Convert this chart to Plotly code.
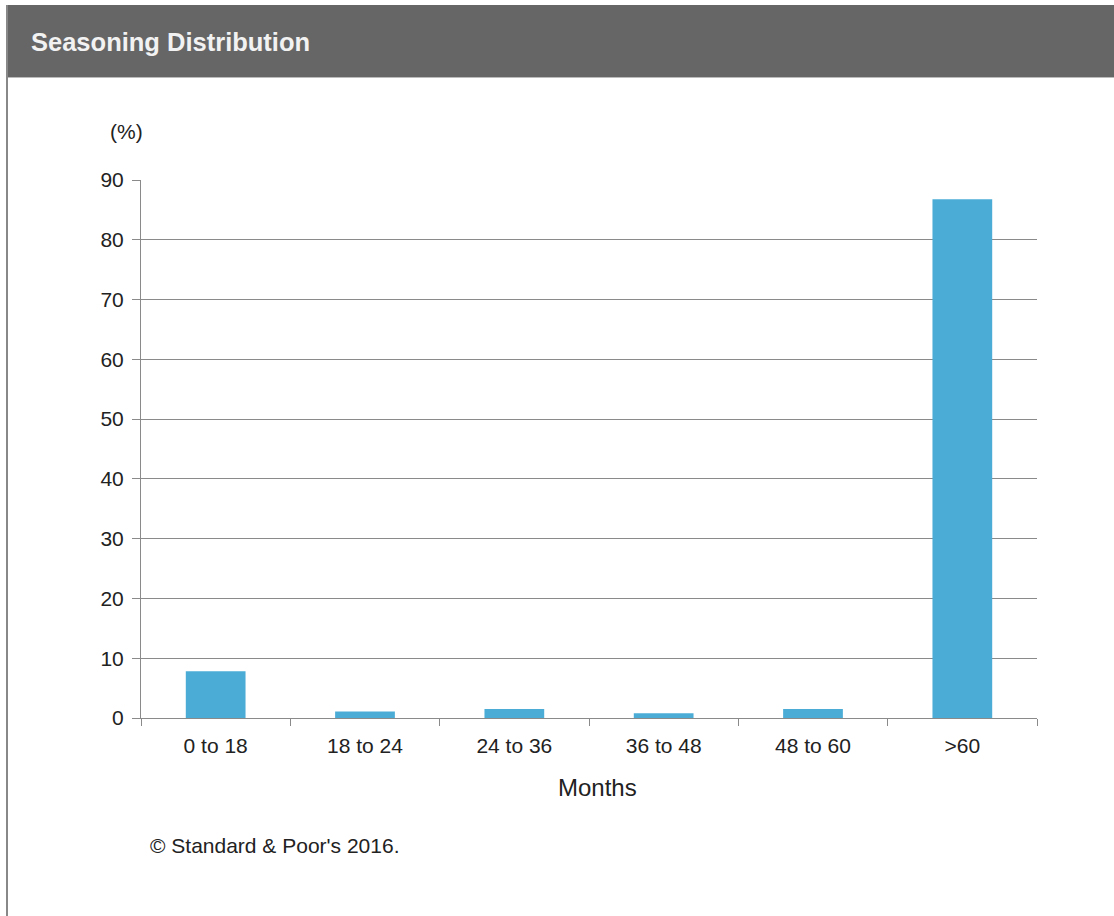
import plotly.graph_objects as go

categories = ["0 to 18", "18 to 24", "24 to 36", "36 to 48", "48 to 60", ">60"]
values = [7.8, 1.1, 1.5, 0.8, 1.5, 86.8]
y_ticks = [0, 10, 20, 30, 40, 50, 60, 70, 80, 90]

W, H = 1114, 916
L, R, T, B = 141, 1037, 180, 718  # plot area in pixels


def px(x):
    return (x - L) / (R - L)


def py(y):
    return (B - y) / (B - T)


FONT = "Liberation Sans, Arial, sans-serif"
GRID = "#8a8a8a"

fig = go.Figure(
    go.Bar(
        x=categories,
        y=values,
        marker=dict(color="#4BACD6", line=dict(width=0)),
        hoverinfo="x+y",
    )
)

fig.update_layout(
    width=W,
    height=H,
    autosize=False,
    margin=dict(l=L, r=W - R, t=T, b=H - B, pad=0),
    paper_bgcolor="white",
    plot_bgcolor="white",
    bargap=0.6,
    showlegend=False,
    font=dict(family=FONT, color="#222222", size=21),
)

fig.update_xaxes(
    type="category",
    tickson="boundaries",
    ticks="outside",
    ticklen=7,
    tickwidth=1,
    tickcolor=GRID,
    showline=True,
    linecolor=GRID,
    linewidth=1,
    showgrid=False,
    ticklabelstandoff=9,
    tickfont=dict(size=21, family=FONT, color="#222222"),
    fixedrange=True,
)

fig.update_yaxes(
    range=[0, 90],
    tickvals=y_ticks,
    ticks="outside",
    ticklen=8,
    tickwidth=1,
    tickcolor=GRID,
    showline=True,
    linecolor=GRID,
    linewidth=1,
    showgrid=True,
    gridcolor=GRID,
    gridwidth=1,
    zeroline=False,
    ticklabelstandoff=4,
    tickfont=dict(size=21, family=FONT, color="#222222"),
    fixedrange=True,
)

shapes = [
    # header band
    dict(type="rect", xref="paper", yref="paper",
         x0=px(6), x1=px(1120), y0=py(5), y1=py(77),
         fillcolor="#666666", line=dict(width=0), layer="below"),
    dict(type="line", xref="paper", yref="paper",
         x0=px(6), x1=px(1120), y0=py(77.5), y1=py(77.5),
         line=dict(color="#bbbbbb", width=1), layer="below"),
    # left border
    dict(type="line", xref="paper", yref="paper",
         x0=px(7), x1=px(7), y0=py(5), y1=py(920),
         line=dict(color="#888888", width=2), layer="below"),
]

annotations = [
    dict(text="<b>Seasoning Distribution</b>", xref="paper", yref="paper",
         x=px(29), y=py(42), xanchor="left", yanchor="middle",
         showarrow=False, font=dict(size=25.5, color="#f2f2f2", family=FONT)),
    dict(text="(%)", xref="paper", yref="paper",
         x=px(126), y=py(132), xanchor="center", yanchor="middle",
         showarrow=False, font=dict(size=21, color="#222222", family=FONT)),
    dict(text="Months", xref="paper", yref="paper",
         x=px(597), y=py(787), xanchor="center", yanchor="middle",
         showarrow=False, font=dict(size=24, color="#222222", family=FONT)),
    dict(text="© Standard & Poor's 2016.", xref="paper", yref="paper",
         x=px(148), y=py(845), xanchor="left", yanchor="middle",
         showarrow=False, font=dict(size=21, color="#222222", family=FONT)),
]

fig.update_layout(shapes=shapes, annotations=annotations)

fig.write_html("out.html")
